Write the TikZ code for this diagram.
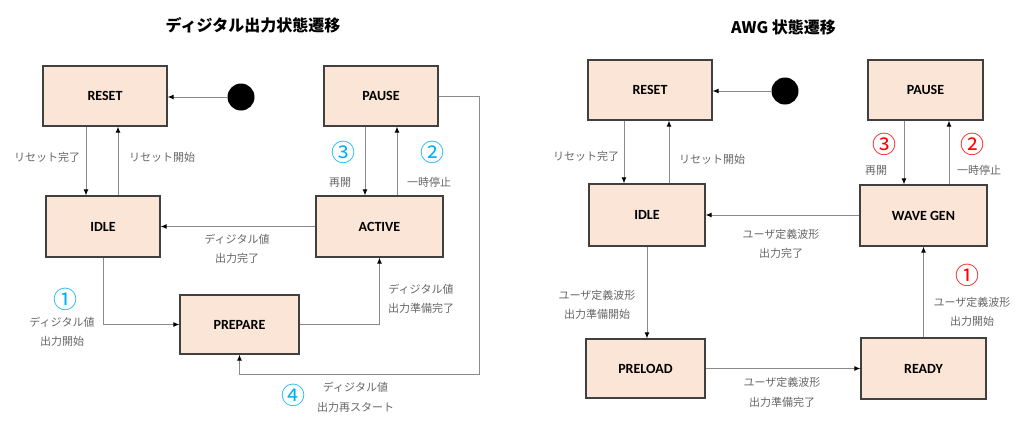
\documentclass[tikz,border=0pt]{standalone}
\usepackage{fontspec}
\newfontfamily\jp{Noto Sans CJK JP}
\newfontfamily\boxfont{Carlito}
\usetikzlibrary{arrows.meta}
\definecolor{boxfill}{HTML}{FBE5D6}
\definecolor{boxline}{HTML}{404040}
\definecolor{lineg}{HTML}{8A8A8A}
\definecolor{txtg}{HTML}{666666}
\definecolor{cyanN}{HTML}{00B0F0}
\definecolor{redN}{HTML}{FF0000}
\tikzset{
 state/.style={draw=boxline, line width=1.3pt, fill=boxfill, inner sep=0pt, font=\boxfont\bfseries\fontsize{14}{16}\selectfont},
 startdot/.style={circle, fill=black, minimum size=27pt, inner sep=0pt},
 conn/.style={draw=lineg, line width=0.9pt, -{Latex[length=6pt,width=5pt,color=black]}},
 lbl/.style={text=txtg, align=center, font=\jp\fontsize{11}{19.5}\selectfont, inner sep=0pt},
 numC/.style={text=cyanN, font=\jp\fontsize{24}{24}\selectfont, inner sep=0pt},
 numR/.style={numC, text=redN},
 ttl/.style={font=\jp\bfseries\fontsize{16}{18}\selectfont, inner sep=0pt},
}
\begin{document}
\begin{tikzpicture}[x=1pt, y=-1pt]
\useasboundingbox (0,0) rectangle (1026,424);
% ---------------- left diagram ----------------
\node[ttl] (titleL) at (253,25) {ディジタル出力状態遷移};
\node[state, minimum width=124pt, minimum height=60pt] (resetL) at (105,96) {RESET};
\node[startdot] (startL) at (241,97) {};
\node[state, minimum width=114pt, minimum height=60pt] (pauseL) at (381,96) {PAUSE};
\node[state, minimum width=114pt, minimum height=61pt] (idleL) at (103,226.5) {IDLE};
\node[state, minimum width=127pt, minimum height=61pt] (activeL) at (379.5,226.5) {ACTIVE};
\node[state, minimum width=119pt, minimum height=59pt] (prepareL) at (239.5,324.5) {PREPARE};
\coordinate (loopL) at (479,374);

\draw[conn] (startL.west) -- (startL.west -| resetL.east);
\draw[conn] ([xshift=-19pt]resetL.south) -- ([xshift=-19pt]resetL.south |- idleL.north);
\draw[conn] ([xshift=13pt]resetL.south |- idleL.north) -- ([xshift=13pt]resetL.south);
\draw[conn] ([xshift=-16pt]pauseL.south) -- ([xshift=-16pt]pauseL.south |- activeL.north);
\draw[conn] ([xshift=16pt]pauseL.south |- activeL.north) -- ([xshift=16pt]pauseL.south);
\draw[conn] (pauseL.east) -| (loopL) -| (prepareL.south);
\draw[conn] (activeL.west |- idleL.east) -- (idleL.east);
\draw[conn] (idleL.south) |- (prepareL.west);
\draw[conn] (prepareL.east) -| (activeL.south);

\node[lbl] (lL1) at (47,157) {リセット完了};
\node[lbl] (lL2) at (162,157) {リセット開始};
\node[numC] (n3L) at (343,152) {③};
\node[numC] (n2L) at (432,152) {②};
\node[lbl] (lL3) at (340,183) {再開};
\node[lbl] (lL4) at (429,182) {一時停止};
\node[lbl] (lL5) at (237,249) {ディジタル値\\出力完了};
\node[lbl] (lL6) at (421,299) {ディジタル値\\出力準備完了};
\node[numC] (n1L) at (65,299) {①};
\node[lbl] (lL7) at (62,332) {ディジタル値\\出力開始};
\node[numC] (n4L) at (293,395) {④};
\node[lbl] (lL8) at (355.5,397.5) {ディジタル値\\出力再スタート};

% ---------------- right diagram ----------------
\node[ttl] (titleR) at (783.5,27) {AWG 状態遷移};
\node[state, minimum width=124pt, minimum height=60pt] (resetR) at (650,90) {RESET};
\node[startdot] (startR) at (785,91) {};
\node[state, minimum width=115pt, minimum height=60pt] (pauseR) at (925.5,90) {PAUSE};
\node[state, minimum width=116pt, minimum height=62pt] (idleR) at (647,215) {IDLE};
\node[state, minimum width=127pt, minimum height=61pt] (waveR) at (923.5,215.5) {WAVE GEN};
\node[state, minimum width=119pt, minimum height=59pt] (preloadR) at (645.5,368.5) {PRELOAD};
\node[state, minimum width=125pt, minimum height=61pt] (readyR) at (923.5,368.5) {READY};

\draw[conn] (startR.west) -- (startR.west -| resetR.east);
\draw[conn] ([xshift=-26pt]resetR.south) -- ([xshift=-26pt]resetR.south |- idleR.north);
\draw[conn] ([xshift=19pt]resetR.south |- idleR.north) -- ([xshift=19pt]resetR.south);
\draw[conn] ([xshift=-21.5pt]pauseR.south) -- ([xshift=-21.5pt]pauseR.south |- waveR.north);
\draw[conn] ([xshift=23.5pt]pauseR.south |- waveR.north) -- ([xshift=23.5pt]pauseR.south);
\draw[conn] (waveR.west |- idleR.east) -- (idleR.east);
\draw[conn] (idleR.south) -- (idleR.south |- preloadR.north);
\draw[conn] (preloadR.east) -- (preloadR.east -| readyR.west);
\draw[conn] (readyR.north) -- (waveR.south);

\node[lbl] (lR1) at (586,156) {リセット完了};
\node[lbl] (lR2) at (712,159) {リセット開始};
\node[numR] (n3R) at (884,144) {③};
\node[numR] (n2R) at (972,144) {②};
\node[lbl] (lR3) at (876,171) {再開};
\node[lbl] (lR4) at (979,170) {一時停止};
\node[lbl] (lR5) at (781,244) {ユーザ定義波形\\出力完了};
\node[lbl] (lR6) at (597,305) {ユーザ定義波形\\出力準備開始};
\node[lbl] (lR7) at (782,392.5) {ユーザ定義波形\\出力準備完了};
\node[numR] (n1R) at (967,275) {①};
\node[lbl] (lR8) at (972,312) {ユーザ定義波形\\出力開始};
\end{tikzpicture}
\end{document}
